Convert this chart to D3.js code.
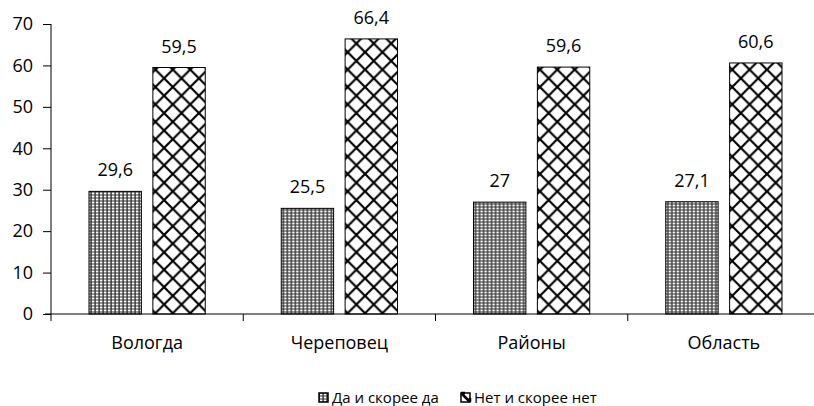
<!DOCTYPE html>
<html>
<head>
<meta charset="utf-8">
<script src="https://cdn.jsdelivr.net/npm/d3@7"></script>
<style>
  body { margin: 0; background: #fff; }
  text { font-family: "Open Sans", "Noto Sans", sans-serif; fill: #000; }
</style>
</head>
<body>
<svg id="chart"></svg>
<script>
const categories = ["Вологда", "Череповец", "Районы", "Область"];
const series_names = ["Да и скорее да", "Нет и скорее нет"];
const yes_values = [29.6, 25.5, 27, 27.1];
const no_values = [59.5, 66.4, 59.6, 60.6];
const y_ticks = [0, 10, 20, 30, 40, 50, 60, 70];

const width = 814;
const height = 406;
const plot = {left: 51, right: 820, top: 24, bottom: 314};
const font = "Open Sans, Noto Sans, sans-serif";

const svg = d3.select("#chart")
    .attr("width", width)
    .attr("height", height);

// patterns
const defs = svg.append("defs");
const dots = defs.append("pattern")
    .attr("id", "dots")
    .attr("patternUnits", "userSpaceOnUse")
    .attr("width", 4).attr("height", 3);
dots.append("rect").attr("width", 4).attr("height", 3).attr("fill", "#333");
dots.append("rect").attr("x", 0.8).attr("y", 0.5).attr("width", 2.6).attr("height", 2).attr("fill", "#fff");

const p = 17.4;
const cross = defs.append("pattern")
    .attr("id", "cross")
    .attr("patternUnits", "userSpaceOnUse")
    .attr("width", p).attr("height", p);
cross.append("rect").attr("width", p).attr("height", p).attr("fill", "#fff");
cross.append("path")
    .attr("d", `M0,0L${p},${p}M0,${p}L${p},0M${-p/2},${p/2}L${p/2},${-p/2}M${p/2},${p*1.5}L${p*1.5},${p/2}M${-p/2},${p/2}L${p/2},${p*1.5}M${p/2},${-p/2}L${p*1.5},${p/2}`)
    .attr("stroke", "#000").attr("stroke-width", 2.2);

const fills = ["url(#dots)", "url(#cross)"];

const x = d3.scaleBand()
    .domain(categories)
    .range([plot.left, plot.right])
    .paddingInner(0).paddingOuter(0);

const x_inner = d3.scaleBand()
    .domain([0, 1])
    .range([38, x.bandwidth() - 38])
    .paddingInner(0.18);

const y = d3.scaleLinear()
    .domain([0, 70])
    .range([plot.bottom, plot.top]);

const rows = categories.map((c, i) => ({cat: c, vals: [yes_values[i], no_values[i]]}));

const groups = svg.append("g")
    .selectAll("g")
    .data(rows)
    .join("g")
    .attr("transform", d => `translate(${x(d.cat)},0)`);

groups.selectAll("rect")
    .data(d => d.vals.map((v, k) => ({v, k})))
    .join("rect")
    .attr("x", d => x_inner(d.k))
    .attr("y", d => y(d.v))
    .attr("width", x_inner.bandwidth())
    .attr("height", d => y(0) - y(d.v))
    .attr("fill", d => fills[d.k])
    .attr("stroke", "#000")
    .attr("stroke-width", 1);

groups.selectAll("text.val")
    .data(d => d.vals.map((v, k) => ({v, k})))
    .join("text")
    .attr("class", "val")
    .attr("x", d => x_inner(d.k) + x_inner.bandwidth() / 2)
    .attr("y", d => y(d.v) - 15)
    .attr("text-anchor", "middle")
    .attr("font-size", 18)
    .text(d => String(d.v).replace(".", ","));

// y axis
const y_axis = svg.append("g")
    .attr("transform", `translate(${plot.left},0)`)
    .call(d3.axisLeft(y).tickValues(y_ticks).tickSize(8).tickPadding(10));
y_axis.select(".domain").attr("stroke", "#000").attr("d", `M0,${plot.top}V${plot.bottom}`);
y_axis.selectAll(".tick line").attr("stroke", "#000");
y_axis.selectAll("text").attr("font-size", 18).attr("font-family", font);

// x axis
const x_axis = svg.append("g")
    .attr("transform", `translate(0,${plot.bottom})`)
    .call(d3.axisBottom(x).tickSize(0).tickPadding(22));
x_axis.select(".domain").attr("stroke", "#000").attr("d", `M${plot.left - 6},0H${plot.right}`);
x_axis.selectAll("text").attr("font-size", 18).attr("font-family", font);
x_axis.selectAll(".cat-tick")
    .data(d3.range(categories.length + 1))
    .join("line")
    .attr("class", "cat-tick")
    .attr("x1", i => plot.left + i * x.bandwidth())
    .attr("x2", i => plot.left + i * x.bandwidth())
    .attr("y1", 0).attr("y2", 7)
    .attr("stroke", "#000");

// legend
const legend_x = [319, 461];
const legend = svg.append("g")
    .selectAll("g")
    .data(series_names)
    .join("g")
    .attr("transform", (d, i) => `translate(${legend_x[i]},393)`);
legend.append("rect")
    .attr("width", 9).attr("height", 9)
    .attr("fill", (d, i) => i === 0 ? "url(#dots)" : "#fff")
    .attr("stroke", "#000").attr("stroke-width", 1.5);
legend.filter((d, i) => i === 1).append("path")
    .attr("d", "M0,0L9,9M0,0L4,0M9,9L9,5")
    .attr("stroke", "#000").attr("stroke-width", 2.5);
legend.append("text")
    .attr("x", 13).attr("y", 9.5)
    .attr("font-size", 15)
    .attr("font-family", font)
    .text(d => d);
</script>
</body>
</html>
